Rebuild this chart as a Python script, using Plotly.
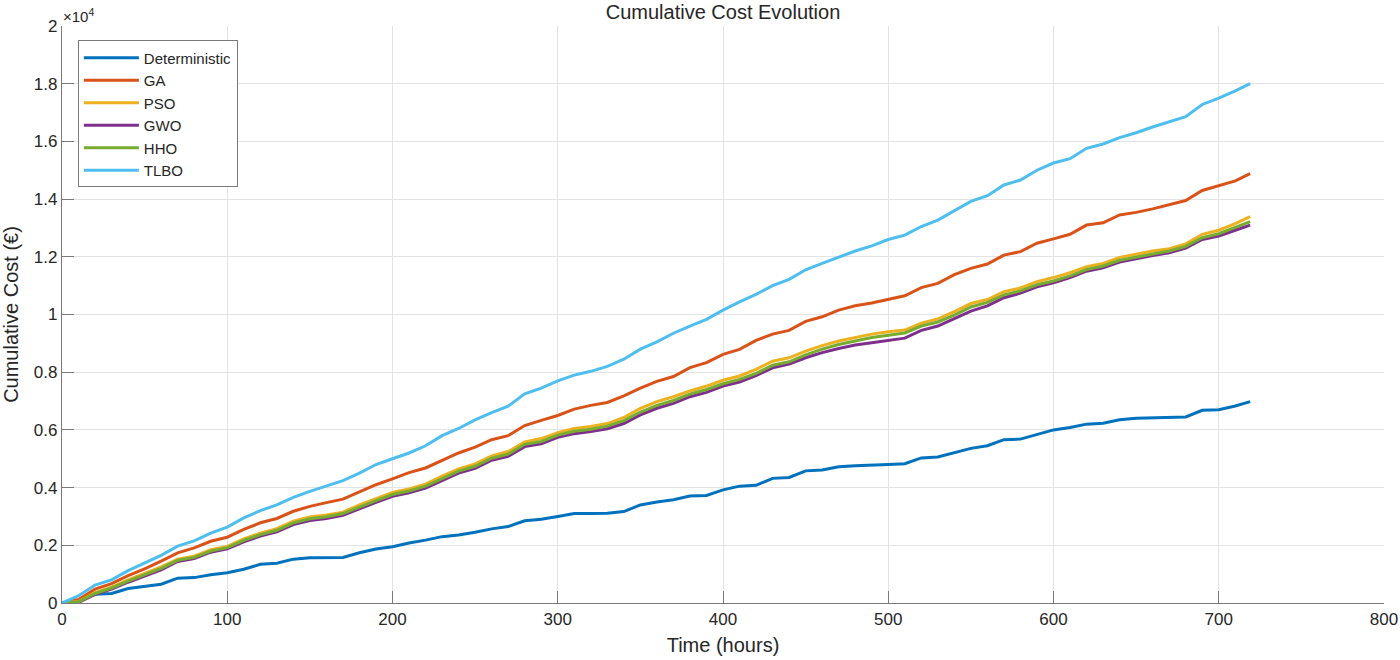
import plotly.graph_objects as go

hours = [0, 10, 20, 30, 40, 50, 60, 70, 80, 90, 100, 110, 120, 130, 140, 150, 160, 170, 180, 190,
         200, 210, 220, 230, 240, 250, 260, 270, 280, 290, 300, 310, 320, 330, 340, 350, 360, 370, 380, 390,
         400, 410, 420, 430, 440, 450, 460, 470, 480, 490, 500, 510, 520, 530, 540, 550, 560, 570, 580, 590,
         600, 610, 620, 630, 640, 650, 660, 670, 680, 690, 700, 710, 719]

# cumulative cost in thousands of euros
deterministic_k = [0, 0.1, 0.3, 0.33, 0.5, 0.57, 0.65, 0.86, 0.88, 0.98, 1.05, 1.17, 1.34, 1.38, 1.52, 1.57, 1.58, 1.58, 1.74, 1.87,
                   1.95, 2.08, 2.18, 2.3, 2.36, 2.45, 2.57, 2.65, 2.85, 2.9, 3.0, 3.1, 3.1, 3.11, 3.17, 3.4, 3.5, 3.58, 3.71, 3.73,
                   3.92, 4.05, 4.08, 4.32, 4.35, 4.58, 4.61, 4.72, 4.76, 4.77, 4.8, 4.83, 5.03, 5.06, 5.2, 5.36, 5.45, 5.66, 5.68, 5.85,
                   6.0, 6.08, 6.2, 6.23, 6.35, 6.4, 6.41, 6.42, 6.45, 6.68, 6.7, 6.83, 6.98]
ga_k = [0, 0.12, 0.48, 0.67, 0.95, 1.18, 1.45, 1.74, 1.91, 2.14, 2.28, 2.55, 2.78, 2.93, 3.18, 3.35, 3.48, 3.6, 3.85, 4.1,
        4.3, 4.52, 4.68, 4.95, 5.2, 5.4, 5.66, 5.8, 6.15, 6.33, 6.5, 6.72, 6.85, 6.95, 7.18, 7.45, 7.68, 7.85, 8.16, 8.33,
        8.62, 8.79, 9.1, 9.32, 9.45, 9.76, 9.92, 10.15, 10.3, 10.4, 10.52, 10.65, 10.93, 11.08, 11.38, 11.6, 11.75, 12.06, 12.18, 12.47,
        12.62, 12.78, 13.1, 13.18, 13.45, 13.54, 13.66, 13.8, 13.95, 14.3, 14.47, 14.63, 14.88]
pso_k = [0, 0.05, 0.36, 0.55, 0.8, 1.02, 1.25, 1.52, 1.62, 1.85, 1.96, 2.22, 2.42, 2.58, 2.84, 2.98, 3.05, 3.15, 3.4, 3.62,
         3.83, 3.95, 4.12, 4.4, 4.65, 4.82, 5.1, 5.25, 5.58, 5.7, 5.9, 6.05, 6.12, 6.22, 6.43, 6.75, 6.98, 7.15, 7.35, 7.52,
         7.72, 7.87, 8.1, 8.38, 8.5, 8.73, 8.92, 9.08, 9.2, 9.32, 9.4, 9.46, 9.7, 9.85, 10.1, 10.38, 10.52, 10.79, 10.92, 11.14,
         11.28, 11.45, 11.66, 11.77, 11.98, 12.1, 12.2, 12.28, 12.45, 12.78, 12.92, 13.15, 13.39]
gwo_k = [0, 0.02, 0.3, 0.48, 0.72, 0.94, 1.15, 1.44, 1.54, 1.76, 1.88, 2.12, 2.32, 2.47, 2.72, 2.86, 2.93, 3.04, 3.27, 3.49,
         3.7, 3.82, 3.98, 4.25, 4.5, 4.67, 4.95, 5.08, 5.42, 5.52, 5.74, 5.87, 5.94, 6.04, 6.22, 6.52, 6.75, 6.92, 7.15, 7.3,
         7.52, 7.66, 7.88, 8.15, 8.28, 8.5, 8.68, 8.82, 8.94, 9.02, 9.1, 9.18, 9.45, 9.6, 9.86, 10.12, 10.3, 10.58, 10.74, 10.96,
         11.1, 11.28, 11.5, 11.62, 11.82, 11.94, 12.04, 12.14, 12.3, 12.6, 12.72, 12.92, 13.1]
hho_k = [0, 0.04, 0.33, 0.52, 0.76, 0.98, 1.2, 1.48, 1.58, 1.8, 1.92, 2.17, 2.37, 2.52, 2.78, 2.92, 2.99, 3.1, 3.33, 3.55,
         3.76, 3.88, 4.05, 4.32, 4.57, 4.74, 5.02, 5.16, 5.5, 5.6, 5.82, 5.95, 6.02, 6.13, 6.32, 6.62, 6.85, 7.02, 7.24, 7.4,
         7.6, 7.75, 7.96, 8.24, 8.36, 8.6, 8.8, 8.96, 9.08, 9.2, 9.28, 9.36, 9.6, 9.74, 9.98, 10.26, 10.42, 10.68, 10.82, 11.03,
         11.16, 11.34, 11.56, 11.68, 11.88, 12.0, 12.1, 12.2, 12.36, 12.66, 12.8, 13.02, 13.22]
tlbo_k = [0, 0.25, 0.62, 0.8, 1.12, 1.38, 1.65, 1.97, 2.15, 2.42, 2.63, 2.95, 3.2, 3.4, 3.66, 3.87, 4.05, 4.24, 4.5, 4.8,
          5.0, 5.2, 5.45, 5.8, 6.05, 6.35, 6.6, 6.82, 7.25, 7.45, 7.7, 7.9, 8.03, 8.2, 8.45, 8.8, 9.05, 9.35, 9.6, 9.83,
          10.15, 10.44, 10.7, 11.0, 11.22, 11.55, 11.77, 11.98, 12.2, 12.38, 12.6, 12.75, 13.05, 13.27, 13.6, 13.92, 14.12, 14.49, 14.66, 15.0,
          15.25, 15.4, 15.76, 15.91, 16.13, 16.3, 16.5, 16.68, 16.86, 17.28, 17.5, 17.75, 18.0]

series_names = ["Deterministic", "GA", "PSO", "GWO", "HHO", "TLBO"]
series_values = [deterministic_k, ga_k, pso_k, gwo_k, hho_k, tlbo_k]
colors = ["#0072BD", "#D95319", "#EDB120", "#7E2F8E", "#77AC30", "#4DBEEE"]

x_ticks = [0, 100, 200, 300, 400, 500, 600, 700, 800]
y_tick_vals = [0, 2000, 4000, 6000, 8000, 10000, 12000, 14000, 16000, 18000, 20000]
y_tick_text = ["0", "0.2", "0.4", "0.6", "0.8", "1", "1.2", "1.4", "1.6", "1.8", "2"]

font_family = "Liberation Sans, Arial, sans-serif"

fig = go.Figure()
for name, vals, col in zip(series_names, series_values, colors):
    fig.add_trace(go.Scatter(
        x=hours, y=[v * 1000 for v in vals], mode="lines", name=name,
        line=dict(color=col, width=3),
    ))

axis_common = dict(
    showline=True, linecolor="#7a7a7a", linewidth=1.3,
    ticks="inside", ticklen=12, tickcolor="#7a7a7a", tickwidth=1.3,
    showgrid=True, gridcolor="#e3e3e3", gridwidth=1,
    zeroline=False, mirror=False, automargin=False,
    tickfont=dict(size=17, color="#262626", family=font_family),
)

fig.update_layout(
    width=1400, height=660,
    margin=dict(l=62, r=16, t=26, b=57),
    paper_bgcolor="white", plot_bgcolor="white",
    font=dict(family=font_family, color="#262626"),
    title=dict(text="Cumulative Cost Evolution", x=0.5, xanchor="center", xref="paper",
               y=0.992, yref="container", yanchor="top", font=dict(size=20, color="#262626")),
    xaxis=dict(range=[0, 800], tickvals=x_ticks, **axis_common,
               title=dict(text="Time (hours)", font=dict(size=20), standoff=10)),
    yaxis=dict(range=[0, 20000], tickvals=y_tick_vals, ticktext=y_tick_text, **axis_common,
               title=dict(text="Cumulative Cost (€)", font=dict(size=20), standoff=10)),
    legend=dict(x=0.012, y=0.975, xanchor="left", yanchor="top",
                bgcolor="white", bordercolor="#7a7a7a", borderwidth=1,
                font=dict(size=15, color="#262626"), itemwidth=55,
                tracegroupgap=0),
    showlegend=True,
)

fig.add_annotation(
    x=0, y=1, xref="paper", yref="paper", xanchor="left", yanchor="bottom",
    text="×10<sup>4</sup>", showarrow=False, font=dict(size=15, color="#262626"),
    xshift=-1, yshift=-1,
)

# remove the default 8px page margin so the figure sits at the window's top-left corner
fig.write_html("out.html", config={"displayModeBar": False},
               post_script="document.body.style.margin='0';")
